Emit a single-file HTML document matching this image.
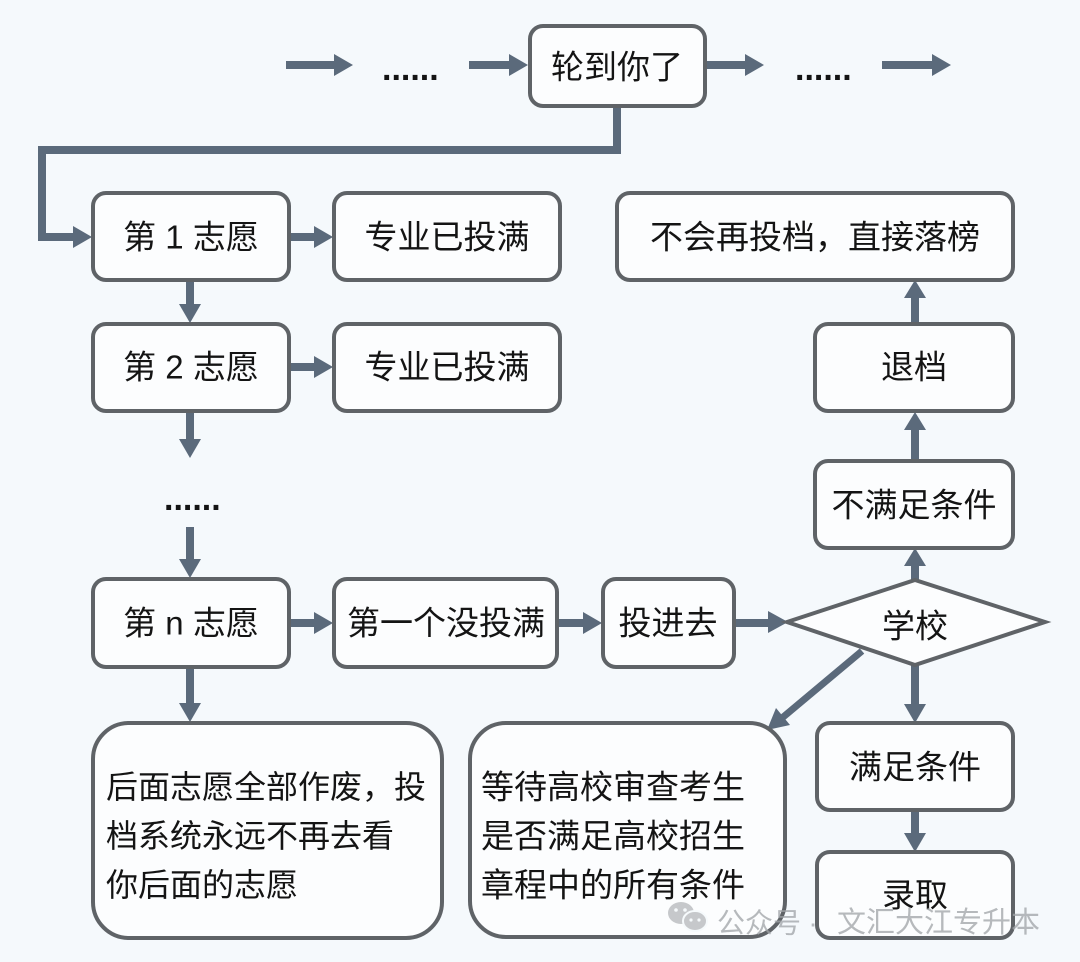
<!DOCTYPE html>
<html><head><meta charset="utf-8"><style>
html,body{margin:0;padding:0;background:#f5f9fc;}
svg{display:block;}
text{font-family:"Liberation Sans","Noto Sans CJK SC",sans-serif;fill:#141414;}
</style></head><body>
<svg width="1080" height="962" viewBox="0 0 1080 962" xmlns="http://www.w3.org/2000/svg">
<rect x="0" y="0" width="1080" height="962" fill="#f5f9fc"/>
<g fill="#5b6a7b">
<!-- top arrows -->
<rect x="286" y="61" width="50" height="8"/><polygon points="334,54 353,65 334,76"/>
<rect x="469" y="61" width="42" height="8"/><polygon points="509,54 528,65 509,76"/>
<rect x="707" y="61" width="40" height="8"/><polygon points="745,54 764,65 745,76"/>
<rect x="882" y="61" width="52" height="8"/><polygon points="932,54 951,65 932,76"/>
<!-- row arrows -->
<rect x="290" y="233" width="26" height="8"/><polygon points="314,226 333,237 314,248"/>
<rect x="290" y="363" width="26" height="8"/><polygon points="314,356 333,367 314,378"/>
<rect x="290" y="619" width="26" height="8"/><polygon points="314,612 333,623 314,634"/>
<rect x="557" y="619" width="28" height="8"/><polygon points="583,612 602,623 583,634"/>
<rect x="734" y="619" width="36" height="8"/><polygon points="768,611 788,622 768,633"/>
<!-- vertical down arrows x=190 -->
<rect x="186" y="280" width="8" height="26"/><polygon points="179,304 190,323 201,304"/>
<rect x="186" y="412" width="8" height="29"/><polygon points="179,439 190,458 201,439"/>
<rect x="186" y="527" width="8" height="34"/><polygon points="179,559 190,578 201,559"/>
<rect x="186" y="667" width="8" height="38"/><polygon points="179,703 190,722 201,703"/>
<!-- right column -->
<rect x="911" y="563" width="8" height="19"/><polygon points="904,566 915,548 926,566"/>
<rect x="911" y="428" width="8" height="33"/><polygon points="904,430 915,412 926,430"/>
<rect x="911" y="296" width="8" height="28"/><polygon points="904,298 915,280 926,298"/>
<rect x="911" y="663" width="8" height="43"/><polygon points="904,704 915,723 926,704"/>
<rect x="911" y="810" width="8" height="25"/><polygon points="904,833 915,852 926,833"/>
</g>
<!-- connector from 轮到你了 -->
<polyline points="617,107 617,150 42,150 42,237 76,237" fill="none" stroke="#5b6a7b" stroke-width="8" stroke-linejoin="miter"/>
<polygon points="73,226 92,237 73,248" fill="#5b6a7b"/>
<!-- diagonal -->
<line x1="862" y1="651" x2="782" y2="718" stroke="#5b6a7b" stroke-width="7"/>
<polygon points="767,730 776,708 790,725" fill="#5b6a7b"/>

<g fill="#fcfdfe" stroke="#5f6367" stroke-width="4">
<rect x="530" y="26" width="175" height="80" rx="13"/>
<rect x="93" y="193" width="196" height="87" rx="13"/>
<rect x="334" y="193" width="226" height="87" rx="13"/>
<rect x="93" y="324" width="196" height="87" rx="13"/>
<rect x="334" y="324" width="226" height="87" rx="13"/>
<rect x="93" y="579" width="196" height="88" rx="13"/>
<rect x="334" y="579" width="223" height="88" rx="13"/>
<rect x="603" y="579" width="131" height="88" rx="13"/>
<rect x="617" y="193" width="396" height="87" rx="13"/>
<rect x="815" y="324" width="198" height="87" rx="13"/>
<rect x="815" y="461" width="198" height="87" rx="13"/>
<rect x="817" y="723" width="196" height="87" rx="13"/>
<rect x="817" y="852" width="196" height="86" rx="13"/>
<rect x="93" y="723" width="349" height="215" rx="36"/>
<rect x="470" y="723" width="315" height="214" rx="36"/>
<polygon points="787,622 915,580 1045,622 915,665"/>
</g>

<g font-size="33" text-anchor="middle" dominant-baseline="central">
<text x="617" y="67">轮到你了</text>
<text x="191" y="237">第 1 志愿</text>
<text x="447" y="237">专业已投满</text>
<text x="191" y="367">第 2 志愿</text>
<text x="447" y="367">专业已投满</text>
<text x="191" y="623">第 n 志愿</text>
<text x="446" y="623">第一个没投满</text>
<text x="668" y="623">投进去</text>
<text x="915" y="626">学校</text>
<text x="815" y="237">不会再投档，直接落榜</text>
<text x="914" y="367">退档</text>
<text x="914" y="505">不满足条件</text>
<text x="915" y="767">满足条件</text>
<text x="915" y="895">录取</text>
</g>
<g font-size="34" font-weight="bold">
<text x="382" y="80">......</text>
<text x="795" y="80">......</text>
<text x="164" y="510">......</text>
</g>
<g font-size="32" dominant-baseline="central">
<text x="106" y="787">后面志愿全部作废，投</text>
<text x="106" y="836">档系统永远不再去看</text>
<text x="106" y="885">你后面的志愿</text>
</g>
<g font-size="33" dominant-baseline="central">
<text x="481" y="787">等待高校审查考生</text>
<text x="481" y="836">是否满足高校招生</text>
<text x="481" y="885">章程中的所有条件</text>
</g>

<!-- watermark -->
<g opacity="0.75">
<ellipse cx="681" cy="913" rx="13" ry="11" fill="#b4b7ba"/>
<ellipse cx="695" cy="921" rx="12" ry="10" fill="#b4b7ba" stroke="#f5f9fc" stroke-width="2"/>
<circle cx="676" cy="910" r="1.8" fill="#f5f9fc"/><circle cx="685" cy="910" r="1.8" fill="#f5f9fc"/>
<circle cx="691" cy="920" r="1.6" fill="#f5f9fc"/><circle cx="699" cy="920" r="1.6" fill="#f5f9fc"/>
<text x="717" y="923" font-size="28" dominant-baseline="central" style="fill:#9fa3a7">公众号</text>
<text x="813" y="923" font-size="28" text-anchor="middle" dominant-baseline="central" style="fill:#9fa3a7">·</text>
<text x="837" y="923" font-size="29" dominant-baseline="central" style="fill:#9fa3a7">文汇大江专升本</text>
</g>
</svg>
</body></html>
